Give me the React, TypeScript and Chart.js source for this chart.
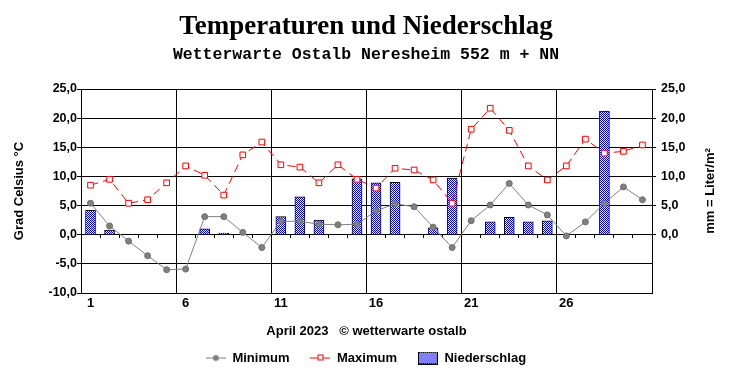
import React, { useEffect, useRef } from 'react';
import { Chart, registerables } from 'chart.js';

Chart.register(...registerables);

const dayLabels = ['1', '2', '3', '4', '5', '6', '7', '8', '9', '10', '11', '12', '13', '14', '15', '16', '17', '18', '19', '20', '21', '22', '23', '24', '25', '26', '27', '28', '29', '30'];

const minimumC = [5.4, 1.5, -1.1, -3.6, -6.0, -5.9, 3.1, 3.1, 0.4, -2.2, 2.3, 2.3, 1.8, 1.7, 1.8, 4.1, 5.3, 4.8, 1.3, -2.2, 2.4, 5.1, 8.8, 5.1, 3.4, -0.2, 2.2, 5.4, 8.2, 6.0];

const maximumC = [8.5, 9.5, 5.4, 6.0, 8.9, 11.8, 10.2, 6.8, 13.7, 15.9, 12.0, 11.6, 8.9, 12.0, 9.5, 8.0, 11.4, 11.1, 9.4, 5.4, 18.1, 21.7, 17.9, 11.8, 9.4, 11.8, 16.4, 14.0, 14.3, 15.4];

const precipMm = [4.2, 0.8, null, null, null, null, 1.0, 0.3, null, null, 3.1, 6.5, 2.5, null, 9.6, 8.9, 9.0, 0.1, 1.2, 9.7, null, 2.2, 3.0, 2.2, 2.4, null, null, 21.2, null, null];

const seriesNames = ['Minimum', 'Maximum', 'Niederschlag'];
const titleText = 'Temperaturen und Niederschlag';
const subtitleText = 'Wetterwarte Ostalb Neresheim 552 m + NN';
const xTitle = 'April 2023   © wetterwarte ostalb';
const yTitle = 'Grad Celsius °C';
const y2Title = 'mm = Liter/m²';

const SANS = 'Arial, "Liberation Sans", sans-serif';
const SERIF = '"Times New Roman", "Liberation Serif", serif';
const MONO = '"Courier New", "Liberation Mono", monospace';

const fmt = (v: any) => Number(v).toFixed(1).replace('.', ',');

function makePatternCanvas(): HTMLCanvasElement {
  const c = document.createElement('canvas');
  c.width = 2;
  c.height = 2;
  const g = c.getContext('2d') as CanvasRenderingContext2D;
  g.fillStyle = '#ffffff';
  g.fillRect(0, 0, 2, 2);
  g.fillStyle = '#0000ff';
  g.fillRect(0, 0, 1, 1);
  g.fillRect(1, 1, 1, 1);
  return c;
}

function makeIcon(kind: string, patternCanvas: HTMLCanvasElement): HTMLCanvasElement {
  const c = document.createElement('canvas');
  c.width = 20;
  c.height = 13;
  const g = c.getContext('2d') as CanvasRenderingContext2D;
  if (kind === 'min') {
    g.strokeStyle = '#808080';
    g.lineWidth = 1;
    g.beginPath();
    g.moveTo(0, 6.5);
    g.lineTo(20, 6.5);
    g.stroke();
    g.fillStyle = '#808080';
    g.beginPath();
    g.arc(10, 6.5, 3, 0, Math.PI * 2);
    g.fill();
  } else if (kind === 'max') {
    g.strokeStyle = '#ff0000';
    g.lineWidth = 1;
    g.beginPath();
    g.moveTo(0, 6.5);
    g.lineTo(20, 6.5);
    g.stroke();
    g.fillStyle = '#ffffff';
    g.fillRect(7, 4, 6, 6);
    g.strokeRect(7.5, 3.5, 5, 5);
  } else {
    const p = g.createPattern(patternCanvas, 'repeat');
    g.fillStyle = p as any;
    g.fillRect(0, 0, 20, 13);
    g.strokeStyle = '#000000';
    g.lineWidth = 1;
    g.strokeRect(0.5, 0.5, 19, 12);
  }
  return c;
}

const rightTitlePlugin = {
  id: 'rightTitle',
  afterDraw(chart: any) {
    const { ctx, chartArea } = chart;
    const s = chart.scales.y2;
    ctx.save();
    ctx.font = `bold 13px ${SANS}`;
    ctx.fillStyle = '#000';
    ctx.textAlign = 'center';
    ctx.textBaseline = 'middle';
    ctx.translate(s.right - 21.6, (chartArea.top + chartArea.bottom) / 2);
    ctx.rotate(-Math.PI / 2);
    ctx.fillText(y2Title, 0, 0);
    ctx.restore();
  },
};

export default function App() {
  const ref = useRef<HTMLCanvasElement | null>(null);

  useEffect(() => {
    const canvas = ref.current;
    if (!canvas) return;
    const ctx = canvas.getContext('2d') as CanvasRenderingContext2D;
    const patternCanvas = makePatternCanvas();
    const pattern = ctx.createPattern(patternCanvas, 'repeat');
    const icons = [makeIcon('min', patternCanvas), makeIcon('max', patternCanvas), makeIcon('bar', patternCanvas)];
    const bold13 = { family: SANS, size: 13, weight: 'bold' as const };
    const boldTick = { family: SANS, size: 12.5, weight: 'bold' as const };

    const chart = new Chart(ctx, {
      type: 'bar',
      data: {
        labels: dayLabels,
        datasets: [
          {
            type: 'line',
            label: seriesNames[0],
            data: minimumC,
            yAxisID: 'y',
            xAxisID: 'x',
            order: 0,
            borderColor: '#808080',
            borderWidth: 1,
            pointRadius: 3,
            pointBackgroundColor: '#808080',
            pointBorderColor: '#6e6e6e',
            pointBorderWidth: 1,
            tension: 0,
          } as any,
          {
            type: 'line',
            label: seriesNames[1],
            data: maximumC,
            yAxisID: 'y',
            xAxisID: 'x',
            order: 1,
            borderColor: '#ff0000',
            borderWidth: 1,
            borderDash: [8, 5],
            pointStyle: 'rect',
            pointRadius: 4,
            pointBackgroundColor: '#ffffff',
            pointBorderColor: '#ff0000',
            pointBorderWidth: 1,
            tension: 0,
          } as any,
          {
            type: 'bar',
            label: seriesNames[2],
            data: precipMm,
            yAxisID: 'y2',
            xAxisID: 'x',
            order: 2,
            backgroundColor: pattern as any,
            borderColor: '#000000',
            borderWidth: 1,
            barThickness: 10,
          } as any,
        ],
      },
      options: {
        responsive: false,
        animation: false,
        devicePixelRatio: 1,
        layout: { padding: { top: 0, left: 0, right: 0, bottom: 5.5 } },
        plugins: {
          title: {
            display: true,
            text: titleText,
            color: '#000',
            font: { family: SERIF, size: 27, weight: 'bold' },
            padding: { top: 10.7, bottom: 0 },
          },
          subtitle: {
            display: true,
            text: subtitleText,
            color: '#000',
            font: { family: MONO, size: 16.5, weight: 'bold' },
            padding: { top: 2.1, bottom: 24 },
          },
          legend: {
            display: true,
            position: 'bottom',
            labels: {
              usePointStyle: true,
              pointStyleWidth: 20,
              padding: 21,
              color: '#000',
              font: bold13,
              generateLabels: (ch: any) => {
                const items = (Chart as any).defaults.plugins.legend.labels.generateLabels(ch);
                return items.map((it: any) => ({ ...it, pointStyle: icons[it.datasetIndex], fontColor: '#000' }));
              },
            },
          },
          tooltip: { enabled: false },
        },
        scales: {
          x: {
            type: 'category',
            position: 'bottom',
            offset: true,
            grid: {
              display: true,
              offset: true,
              drawOnChartArea: true,
              drawTicks: false,
              color: '#000',
              lineWidth: (c: any) => (typeof c.index === 'number' && c.index % 5 === 0 ? 1 : 0),
            },
            border: { display: true, color: '#000', width: 1 },
            ticks: {
              autoSkip: false,
              maxRotation: 0,
              minRotation: 0,
              padding: 3,
              color: '#000',
              font: bold13,
              callback: (_v: any, i: number) => (i % 5 === 0 ? dayLabels[i] : ''),
            },
            title: {
              display: true,
              text: xTitle,
              color: '#000',
              font: bold13,
              padding: { top: 0, bottom: -8.3 },
            },
            afterFit: (s: any) => {
              s.height = 37.5;
            },
          } as any,
          xz: {
            type: 'category',
            axis: 'x',
            position: { y: 0 },
            offset: true,
            grid: { display: true, offset: true, drawOnChartArea: false, drawTicks: true, tickLength: 3, color: '#000' },
            border: { display: false },
            ticks: { display: false },
          } as any,
          y: {
            type: 'linear',
            position: 'left',
            min: -10,
            max: 25,
            ticks: { stepSize: 5, padding: 0, color: '#000', font: boldTick, callback: fmt },
            grid: { color: '#000', lineWidth: 1, drawTicks: true, tickLength: 4 },
            border: { display: true, color: '#000', width: 1 },
            title: {
              display: true,
              text: yTitle,
              color: '#000',
              font: bold13,
              padding: { top: 11.7, bottom: 0 },
            },
            afterFit: (s: any) => {
              s.width = 81;
            },
          } as any,
          y2: {
            type: 'linear',
            position: 'right',
            min: -10,
            max: 25,
            ticks: { stepSize: 5, padding: 5, color: '#000', font: boldTick, callback: fmt },
            afterBuildTicks: (s: any) => {
              s.ticks = s.ticks.filter((t: any) => t.value >= 0);
            },
            grid: { drawOnChartArea: false, drawTicks: true, tickLength: 4, color: '#000' },
            border: { display: true, color: '#000', width: 1 },
            afterFit: (s: any) => {
              s.width = 80;
            },
          } as any,
        },
      },
      plugins: [rightTitlePlugin],
    });

    return () => {
      chart.destroy();
    };
  }, []);

  return (
    <div style={{ position: 'absolute', left: 0, top: 0, width: 732, height: 380, background: '#fff' }}>
      <canvas ref={ref} width={732} height={380} style={{ display: 'block', width: 732, height: 380 }} />
    </div>
  );
}
